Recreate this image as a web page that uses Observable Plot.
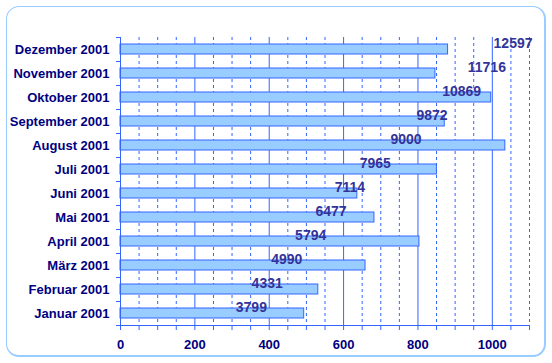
<!DOCTYPE html>
<html>
<head>
<meta charset="utf-8">
<script src="https://cdn.jsdelivr.net/npm/d3@7"></script>
<script src="https://cdn.jsdelivr.net/npm/@observablehq/plot@0.6"></script>
<style>
  html, body { margin: 0; padding: 0; background: #ffffff; }
  #wrap { position: relative; width: 552px; height: 363px; }
  #frame { position: absolute; left: 6px; top: 6px; width: 537px; height: 348px;
           border: 1px solid #99ccff; border-right-width: 2px; border-bottom-width: 2px; border-radius: 13px; box-sizing: content-box; }
  #chart { position: absolute; left: 0; top: 0; }
</style>
</head>
<body>
<div id="wrap"><div id="frame"></div><div id="chart"></div></div>
<script>
const months = ["Januar 2001","Februar 2001","März 2001","April 2001","Mai 2001","Juni 2001",
                "Juli 2001","August 2001","September 2001","Oktober 2001","November 2001","Dezember 2001"];
const monthly = [494, 532, 659, 804, 683, 637, 851, 1035, 872, 997, 847, 881];
const cumulative = [3799, 4331, 4990, 5794, 6477, 7114, 7965, 9000, 9872, 10869, 11716, 12597];
const xTickLabels = [0, 200, 400, 600, 800, 1000];

// secondary (cumulative) axis mapped onto the primary axis units
const secondary = d3.scaleLinear().domain([0, 12500]).range([48, 1048]);

const bars = months.map((m, i) => ({month: m, value: monthly[i], total: cumulative[i], tx: secondary(cumulative[i])}));
const solidGrid = d3.range(200, 1001, 200);
const dashedGrid = d3.range(50, 1101, 50).filter(v => v % 200 !== 0);
const order = months.slice().reverse();
const blue = "#3366ff";

const chart = Plot.plot({
  width: 552,
  height: 363,
  marginLeft: 120,
  marginRight: 23,
  marginTop: 37,
  marginBottom: 38,
  style: {fontFamily: "'Liberation Sans', Arial, sans-serif", fontSize: "13px", fontWeight: "bold", background: "transparent", color: "#000080"},
  x: {domain: [0, 1100], label: null},
  y: {domain: order, paddingInner: 0.58, paddingOuter: 0.29, label: null},
  marks: [
    Plot.ruleX(dashedGrid, {stroke: blue, strokeWidth: 1, strokeDasharray: "3,3"}),
    Plot.ruleX(solidGrid, {stroke: blue, strokeWidth: 1}),
    Plot.barX(bars, {x: "value", y: "month", fill: "#99ccff", stroke: blue, strokeWidth: 1}),
    Plot.ruleX([0], {stroke: blue, strokeWidth: 1}),
    Plot.ruleY(months, {y: d => d, dy: -12, x1: -10.8, x2: 0, stroke: blue}),
    Plot.ruleY([months[0]], {y: d => d, dy: 12, x1: -10.8, x2: 0, stroke: blue}),
    Plot.axisX({ticks: d3.range(0, 1101, 50), tickSize: 5, tickFormat: () => "", stroke: blue, label: null}),
    Plot.ruleY([months[0]], {y: d => d, dy: 12, x1: 0, x2: 1100, stroke: blue}),
    Plot.axisX({ticks: xTickLabels, tickFormat: d3.format("d"), tickSize: 0, tickPadding: 14, fill: "#000080", fontWeight: "bold", fontSize: 13, label: null}),
    Plot.axisY({tickSize: 0, tickPadding: 11, fill: "#000080", fontWeight: "bold", fontSize: 13, label: null}),
    Plot.text(bars, {x: "tx", y: "month", text: d => String(d.total), dy: -6, fill: "#333399", fontWeight: "bold", fontSize: 14, textAnchor: "middle"})
  ]
});
document.getElementById("chart").appendChild(chart);
</script>
</body>
</html>
